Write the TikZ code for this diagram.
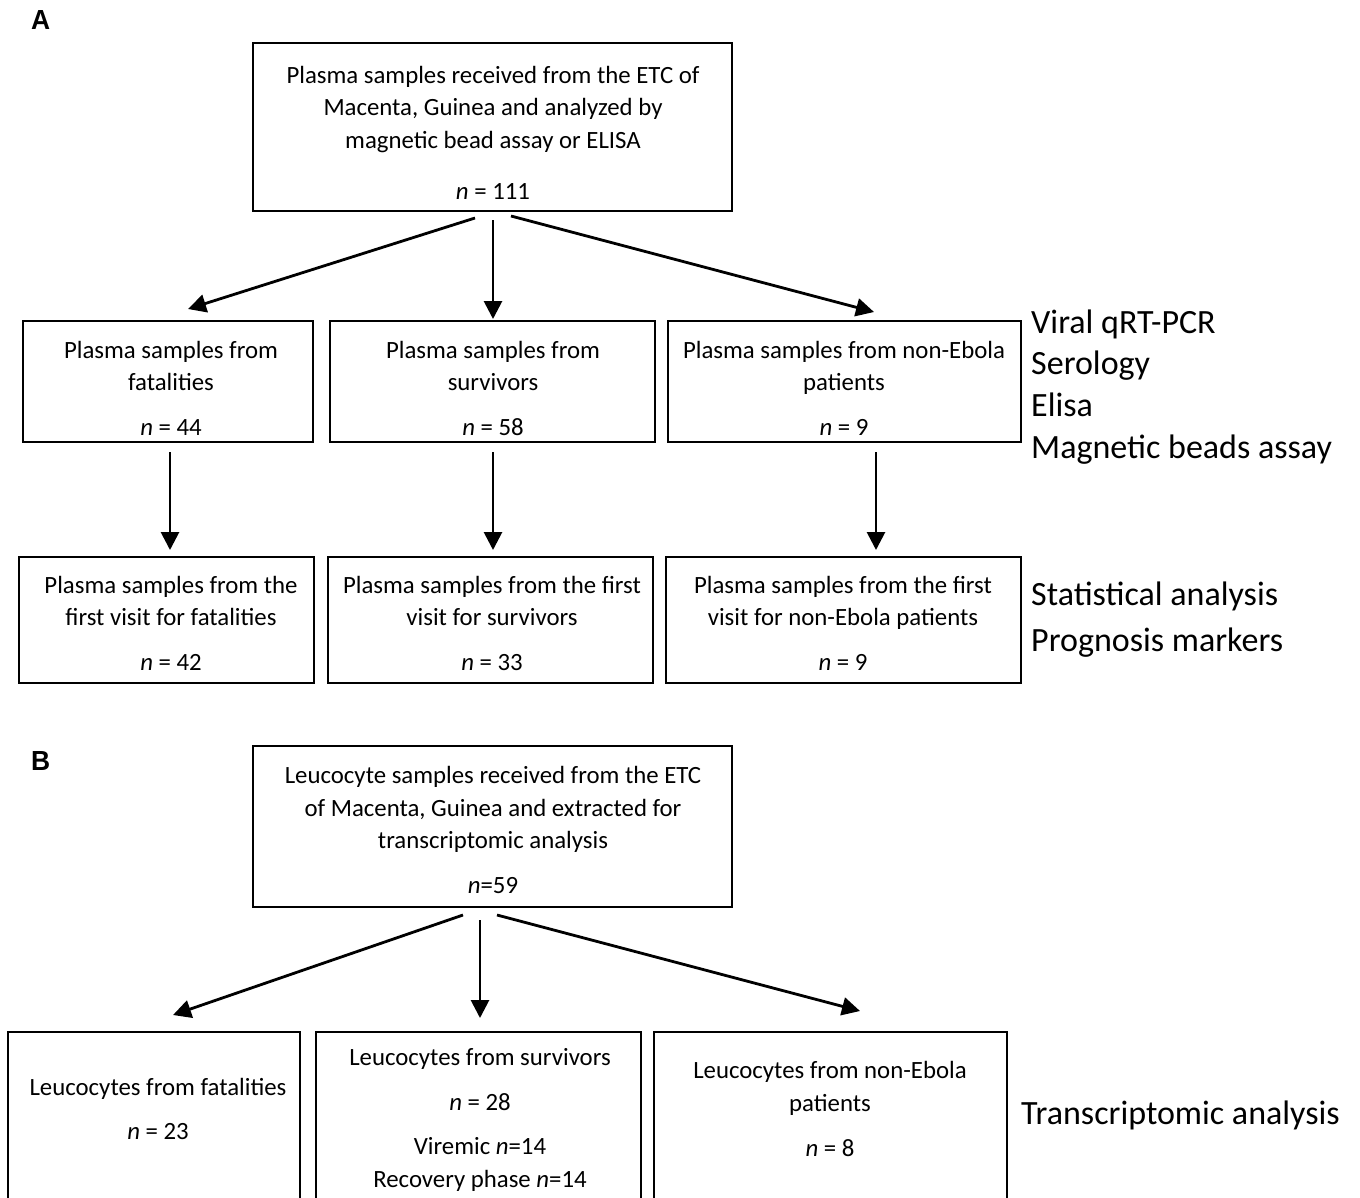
\documentclass[tikz,border=0pt]{standalone}
\usepackage{fontspec}
\setmainfont{Carlito}
\newfontfamily\lblfont{Liberation Sans}
\usetikzlibrary{arrows.meta}
\begin{document}
\begin{tikzpicture}[x=1pt,y=-1pt,
  box/.style={draw=black,line width=2.2pt,inner sep=0pt,rectangle},
  txt/.style={inner sep=0pt,anchor=base,font=\fontsize{24.8}{28}\selectfont},
  side/.style={inner sep=0pt,anchor=base west,font=\fontsize{34}{38}\selectfont},
  panel/.style={inner sep=0pt,anchor=base west,font=\lblfont\bfseries\fontsize{24}{30}\selectfont},
  arr/.style={line width=2.8pt,-{Triangle[length=18pt,width=18pt]}}]
\useasboundingbox (0,0) rectangle (1360,1197);
\clip (0,0) rectangle (1360,1197);
\fill[white] (0,0) rectangle (1360,1197);
% panel labels
\node[panel,xscale=1.1,yscale=1.15] (pA) at (31,29) {A};
\node[panel,xscale=1.1,yscale=1.15] (pB) at (31,770) {B};
% Panel A boxes
\node[box,minimum width=479pt,minimum height=168pt] (a0) at (492.5,127) {};
\node[box,minimum width=290pt,minimum height=121pt] (a1) at (168,381.5) {};
\node[box,minimum width=325pt,minimum height=121pt] (a2) at (492.5,381.5) {};
\node[box,minimum width=353pt,minimum height=121pt] (a3) at (844.5,381.5) {};
\node[box,minimum width=295pt,minimum height=126pt] (a4) at (166.5,620) {};
\node[box,minimum width=325pt,minimum height=126pt] (a5) at (490.5,620) {};
\node[box,minimum width=355pt,minimum height=126pt] (a6) at (843.5,620) {};
% Panel A texts
\node[txt] (a0t1) at (493,83) {Plasma samples received from the ETC of};
\node[txt] (a0t2) at (493,115) {Macenta, Guinea and analyzed by};
\node[txt] (a0t3) at (493,148) {magnetic bead assay or ELISA};
\node[txt] (a0n) at (493,199) {\textit{n} = 111};
\node[txt] (a1t1) at (171,358) {Plasma samples from};
\node[txt] (a1t2) at (171,390) {fatalities};
\node[txt] (a1n) at (171,435) {\textit{n} = 44};
\node[txt] (a2t1) at (493,358) {Plasma samples from};
\node[txt] (a2t2) at (493,390) {survivors};
\node[txt] (a2n) at (493,435) {\textit{n} = 58};
\node[txt] (a3t1) at (844,358) {Plasma samples from non-Ebola};
\node[txt] (a3t2) at (844,390) {patients};
\node[txt] (a3n) at (844,435) {\textit{n} = 9};
\node[txt] (a4t1) at (171,593) {Plasma samples from the};
\node[txt] (a4t2) at (171,625) {first visit for fatalities};
\node[txt] (a4n) at (171,670) {\textit{n} = 42};
\node[txt] (a5t1) at (492,593) {Plasma samples from the first};
\node[txt] (a5t2) at (492,625) {visit for survivors};
\node[txt] (a5n) at (492,670) {\textit{n} = 33};
\node[txt] (a6t1) at (843,593) {Plasma samples from the first};
\node[txt] (a6t2) at (843,625) {visit for non-Ebola patients};
\node[txt] (a6n) at (843,670) {\textit{n} = 9};
% side labels A
\node[side] (s1) at (1031,333) {Viral qRT-PCR};
\node[side] (s2) at (1031,374) {Serology};
\node[side] (s3) at (1031,416) {Elisa};
\node[side] (s4) at (1031,458) {Magnetic beads assay};
\node[side] (s5) at (1031,605) {Statistical analysis};
\node[side] (s6) at (1031,651) {Prognosis markers};
% arrows A
\coordinate (a0l) at (475,218); \coordinate (a1e) at (188,309);
\coordinate (a0m) at (493,220); \coordinate (a2e) at (493,319);
\coordinate (a0r) at (511,216); \coordinate (a3e) at (874,312);
\draw[arr] (a0l) -- (a1e);
\draw[arr] (a0m) -- (a2e);
\draw[arr] (a0r) -- (a3e);
\coordinate (a1s) at (170,452); \coordinate (a4e) at (170,550);
\coordinate (a2s) at (493,452); \coordinate (a5e) at (493,550);
\coordinate (a3s) at (876,452); \coordinate (a6e) at (876,550);
\draw[arr] (a1s) -- (a4e);
\draw[arr] (a2s) -- (a5e);
\draw[arr] (a3s) -- (a6e);
% Panel B boxes
\node[box,minimum width=479pt,minimum height=161pt] (b0) at (492.5,826.5) {};
\node[box,minimum width=292pt,minimum height=198pt] (b1) at (154,1131) {};
\node[box,minimum width=325pt,minimum height=198pt] (b2) at (478.5,1131) {};
\node[box,minimum width=353pt,minimum height=198pt] (b3) at (830.5,1131) {};
% Panel B texts
\node[txt] (b0t1) at (493,783) {Leucocyte samples received from the ETC};
\node[txt] (b0t2) at (493,816) {of Macenta, Guinea and extracted for};
\node[txt] (b0t3) at (493,848) {transcriptomic analysis};
\node[txt] (b0n) at (493,893) {\textit{n}=59};
\node[txt] (b1t1) at (158,1095) {Leucocytes from fatalities};
\node[txt] (b1n) at (158,1139) {\textit{n} = 23};
\node[txt] (b2t1) at (480,1065) {Leucocytes from survivors};
\node[txt] (b2n) at (480,1110) {\textit{n} = 28};
\node[txt] (b2v) at (480,1154) {Viremic \textit{n}=14};
\node[txt] (b2r) at (480,1187) {Recovery phase \textit{n}=14};
\node[txt] (b3t1) at (830,1078) {Leucocytes from non-Ebola};
\node[txt] (b3t2) at (830,1111) {patients};
\node[txt] (b3n) at (830,1156) {\textit{n} = 8};
\node[side] (s7) at (1021,1124) {Transcriptomic analysis};
% arrows B
\coordinate (b0l) at (463,915); \coordinate (b1e) at (173,1015);
\coordinate (b0m) at (480,920); \coordinate (b2e) at (480,1018);
\coordinate (b0r) at (497,915); \coordinate (b3e) at (860,1011);
\draw[arr] (b0l) -- (b1e);
\draw[arr] (b0m) -- (b2e);
\draw[arr] (b0r) -- (b3e);
\end{tikzpicture}
\end{document}
